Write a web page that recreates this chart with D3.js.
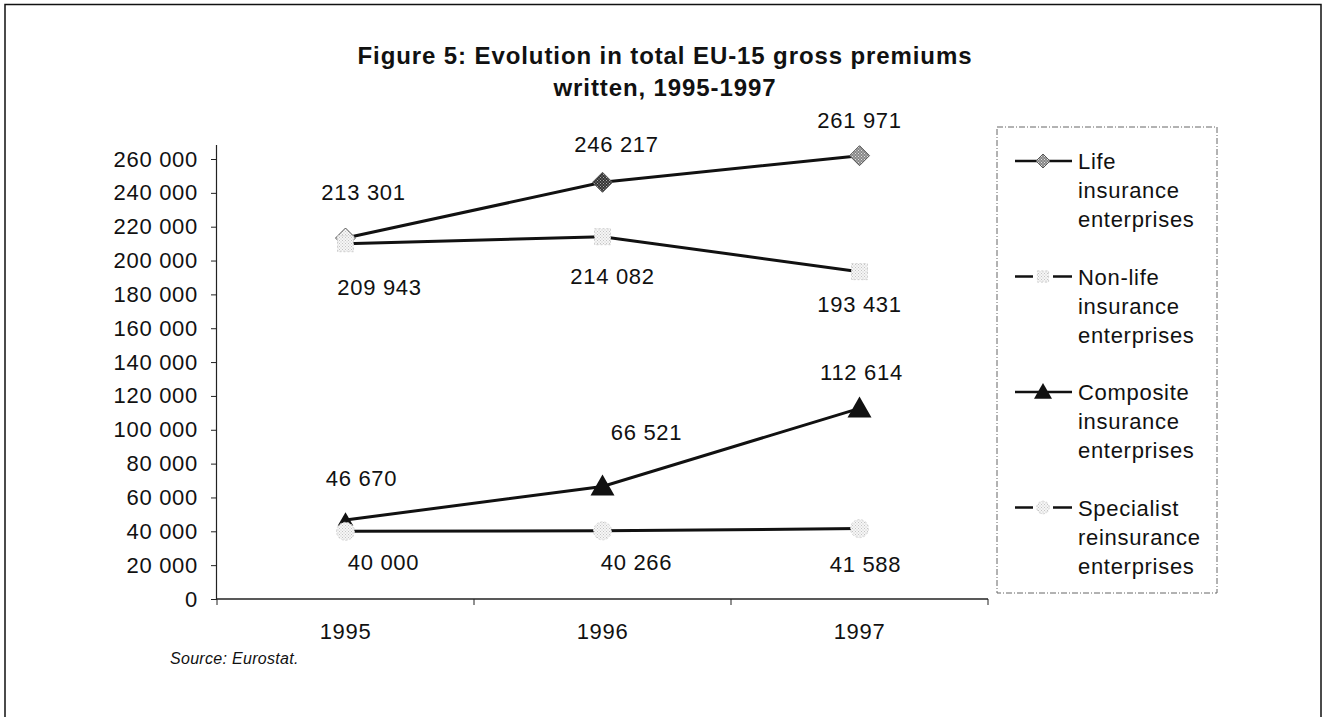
<!DOCTYPE html>
<html>
<head>
<meta charset="utf-8">
<script src="https://cdn.jsdelivr.net/npm/d3@7/dist/d3.min.js"></script>
<style>
  html, body { margin: 0; padding: 0; background: #fff; }
  svg { display: block; font-family: "Liberation Sans", Arial, sans-serif; }
</style>
</head>
<body>
<svg id="chart" width="1327" height="717"></svg>
<script>
// Gross premiums written, EU-15 (ECU million)
const years = ["1995", "1996", "1997"];
const lifeValues       = [213301, 246217, 261971];
const nonLifeValues    = [209943, 214082, 193431];
const compositeValues  = [46670, 66521, 112614];
const specialistValues = [40000, 40266, 41588];
const yTicks = [0, 20000, 40000, 60000, 80000, 100000, 120000, 140000,
                160000, 180000, 200000, 220000, 240000, 260000];
const seriesNames = [
  ["Life", "insurance", "enterprises"],
  ["Non-life", "insurance", "enterprises"],
  ["Composite", "insurance", "enterprises"],
  ["Specialist", "reinsurance", "enterprises"]
];
const titleLines = ["Figure 5: Evolution in total EU-15 gross premiums", "written,  1995-1997"];
const sourceNote = "Source: Eurostat.";

const svg = d3.select("#chart");

// page frame
svg.append("path")
  .attr("d", "M5,720 L5,4.5 L1321,4.5 L1321,720")
  .attr("fill", "none").attr("stroke", "#111").attr("stroke-width", 1.5);

const plot = { left: 217, right: 988, top: 159, bottom: 599 };

const x = d3.scaleBand().domain(years).range([plot.left, plot.right]);
const y = d3.scaleLinear().domain([0, 260000]).range([plot.bottom, plot.top]);

const fmt = v => d3.format(",")(v).replace(/,/g, " ");
const textStyle = sel => sel.attr("font-size", 22).attr("letter-spacing", 0.7).attr("fill", "#111");

// speckled marker fills
const defs = svg.append("defs");
function speckle(id, bg, dot, step) {
  const p = defs.append("pattern").attr("id", id).attr("patternUnits", "userSpaceOnUse")
    .attr("width", step).attr("height", step);
  p.append("rect").attr("width", step).attr("height", step).attr("fill", bg);
  p.append("rect").attr("width", 1).attr("height", 1).attr("fill", dot);
  p.append("rect").attr("x", step / 2).attr("y", step / 2).attr("width", 1).attr("height", 1).attr("fill", dot);
}
speckle("darkDots", "#333", "#aaa", 3);
speckle("midDots", "#888", "#e0e0e0", 3);
speckle("lightDots", "#f6f6f6", "#c4c4c4", 3);

// title
svg.append("g").selectAll("text").data(titleLines).join("text")
  .attr("x", 665).attr("y", (d, i) => 64 + i * 32)
  .attr("text-anchor", "middle").attr("font-weight", "bold")
  .attr("font-size", 24).attr("letter-spacing", 0.9).attr("fill", "#111")
  .text(d => d);

// y axis
const yAxis = svg.append("g").attr("transform", `translate(${plot.left},0)`)
  .call(d3.axisLeft(y).tickValues(yTicks).tickFormat(fmt).tickSize(6).tickPadding(13));
yAxis.select(".domain").attr("d", `M-0.5,145V${plot.bottom}`).attr("stroke", "#222").attr("stroke-width", 1.2);
yAxis.selectAll(".tick line").attr("stroke", "#222");
yAxis.selectAll(".tick text").call(textStyle).attr("font-family", "Liberation Sans, Arial, sans-serif");

// x axis with ticks on the category boundaries
const xAxis = svg.append("g").attr("transform", `translate(0,${plot.bottom})`);
xAxis.append("line").attr("x1", plot.left).attr("x2", plot.right)
  .attr("stroke", "#222").attr("stroke-width", 1.5);
const bounds = years.map(d => x(d)).concat([x(years[years.length - 1]) + x.bandwidth()]);
xAxis.selectAll(".bt").data(bounds).join("line").attr("class", "bt")
  .attr("x1", d => d).attr("x2", d => d).attr("y1", 0).attr("y2", 6).attr("stroke", "#222");
xAxis.selectAll(".yl").data(years).join("text").attr("class", "yl")
  .attr("x", d => x(d) + x.bandwidth() / 2).attr("y", 40)
  .attr("text-anchor", "middle").call(textStyle).text(d => d);

const cx = d => x(d) + x.bandwidth() / 2;

// series drawing settings (label offsets are relative to each point)
const series = [
  { values: lifeValues, marker: "diamond",
    fills: ["url(#lightDots)", "url(#darkDots)", "url(#midDots)"], sizes: [1, 1, 1],
    labelOffsets: [[18, -46], [14, -38], [0, -36]] },
  { values: nonLifeValues, marker: "square",
    fills: ["url(#lightDots)", "url(#lightDots)", "url(#lightDots)"], sizes: [1, 1, 1],
    labelOffsets: [[34, 43], [10, 39], [0, 32]] },
  { values: compositeValues, marker: "triangle",
    fills: ["#111", "#111", "#111"], sizes: [0.65, 1, 1],
    labelOffsets: [[16, -42], [44, -54], [2, -36]] },
  { values: specialistValues, marker: "circle",
    fills: ["url(#lightDots)", "url(#lightDots)", "url(#lightDots)"], sizes: [1, 1, 1],
    labelOffsets: [[38, 31], [34, 31], [6, 35]] }
];

const line = d3.line().x(d => cx(d.year)).y(d => y(d.value));

function drawMarker(g, kind, fill, px, py, scale) {
  const s = scale || 1;
  if (kind === "diamond") {
    const r = 10 * s;
    g.append("path").attr("d", `M${px},${py - r}L${px + r},${py}L${px},${py + r}L${px - r},${py}Z`)
      .attr("fill", fill).attr("stroke", "#555").attr("stroke-width", 1);
  } else if (kind === "square") {
    const r = 8 * s;
    g.append("rect").attr("x", px - r).attr("y", py - r).attr("width", 2 * r).attr("height", 2 * r)
      .attr("fill", fill).attr("stroke", "#cfcfcf").attr("stroke-dasharray", "2,2");
  } else if (kind === "triangle") {
    const r = 12 * s;
    g.append("path").attr("d", `M${px},${py - r}L${px + r},${py + r * 0.75}L${px - r},${py + r * 0.75}Z`)
      .attr("fill", fill);
  } else if (kind === "circle") {
    g.append("circle").attr("cx", px).attr("cy", py).attr("r", 9 * s)
      .attr("fill", fill).attr("stroke", "#d2d2d2").attr("stroke-dasharray", "2,2");
  }
}

const linesG = svg.append("g");
const marksG = svg.append("g");
const labelsG = svg.append("g");

series.forEach(s => {
  const pts = years.map((yr, i) => ({ year: yr, value: s.values[i] }));
  linesG.append("path").datum(pts).attr("d", line)
    .attr("fill", "none").attr("stroke", "#111").attr("stroke-width", 3);
  pts.forEach((p, i) => drawMarker(marksG, s.marker, s.fills[i], cx(p.year), y(p.value), s.sizes[i]));
  labelsG.selectAll(null).data(pts).join("text")
    .attr("x", (d, i) => cx(d.year) + s.labelOffsets[i][0])
    .attr("y", (d, i) => y(d.value) + s.labelOffsets[i][1] + 8)
    .attr("text-anchor", "middle").call(textStyle)
    .text(d => fmt(d.value));
});

// legend
const legend = svg.append("g");
legend.append("rect").attr("x", 997).attr("y", 127).attr("width", 220).attr("height", 466)
  .attr("fill", "none").attr("stroke", "#666").attr("stroke-width", 1).attr("stroke-dasharray", "6,2,1,2");

seriesNames.forEach((lines, i) => {
  const top = 161 + i * 115.5;
  const s = series[i];
  const g = legend.append("g");
  g.append("line").attr("x1", 1015).attr("x2", 1072).attr("y1", top).attr("y2", top)
    .attr("stroke", "#111").attr("stroke-width", 2.5);
  if (s.marker === "diamond") drawMarker(g, "diamond", "url(#midDots)", 1043, top, 0.7);
  if (s.marker === "triangle") drawMarker(g, "triangle", "#111", 1043, top, 0.75);
  if (s.marker === "square" || s.marker === "circle") {
    // faint marker breaking the sample line
    g.append("rect").attr("x", 1033).attr("y", top - 7).attr("width", 20).attr("height", 14).attr("fill", "#fff");
    drawMarker(g, s.marker, "url(#lightDots)", 1043, top, 0.7);
  }
  g.selectAll("text").data(lines).join("text")
    .attr("x", 1078).attr("y", (d, j) => top + 8 + j * 29)
    .call(textStyle).text(d => d);
});

// source note
svg.append("text").attr("x", 170).attr("y", 664)
  .attr("font-size", 16).attr("font-style", "italic").attr("letter-spacing", 0.3).attr("fill", "#111")
  .text(sourceNote);
</script>
</body>
</html>
